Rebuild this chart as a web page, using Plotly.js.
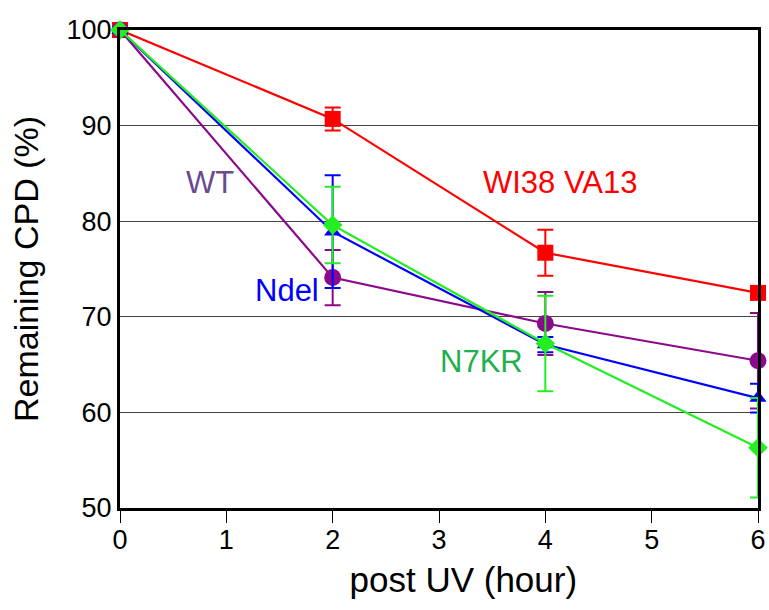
<!DOCTYPE html>
<html>
<head>
<meta charset="utf-8">
<script src="https://cdn.plot.ly/plotly-3.0.1.min.js"></script>
<style>html,body{margin:0;padding:0;background:#fff;}#chart{width:769px;height:610px;}</style>
</head>
<body>
<div id="chart"></div>
<script>
const hours = [0, 2, 4, 6];
const wi38 = [100, 90.7, 76.7, 72.5];
const wi38Err = [0, 1.2, 2.4, 0.4];
const wt = [100, 74.1, 69.3, 65.4];
const wtErr = [0, 2.9, 3.3, 5.0];
const ndel = [100, 78.9, 67.1, 61.5];
const ndelErr = [0, 5.9, 0.8, 1.5];
const n7kr = [100, 79.6, 67.2, 56.3];
const n7krErr = [0, 4.0, 5.0, 5.2];
const xTicks = [0, 1, 2, 3, 4, 5, 6];
const yTicks = [50, 60, 70, 80, 90, 100];
const labels = [
  {text: 'WT', x: 0.85, y: 84, color: '#6a4a8f'},
  {text: 'WI38 VA13', x: 4.14, y: 84, color: '#ff0000'},
  {text: 'Ndel', x: 1.57, y: 72.7, color: '#0000ff'},
  {text: 'N7KR', x: 3.4, y: 65.3, color: '#1db14f'}
];

function series(y, err, color, symbol, size) {
  return {
    x: hours, y: y, type: 'scatter', mode: 'lines+markers',
    line: {color: color, width: 2.2},
    marker: {color: color, symbol: symbol, size: size},
    error_y: {type: 'data', array: err, visible: true, color: color, thickness: 2, width: 8},
    cliponaxis: false, hoverinfo: 'skip'
  };
}

const data = [
  series(wi38, wi38Err, '#ff0000', 'square', 16),
  series(wt, wtErr, '#8b0a8b', 'circle', 17),
  series(ndel, ndelErr, '#0000ff', 'triangle-up', 15),
  series(n7kr, n7krErr, '#22ee22', 'diamond', 15)
];

const fontFam = 'Liberation Sans, Arial, sans-serif';
const layout = {
  width: 769, height: 610,
  margin: {l: 120, r: 11, t: 30, b: 102},
  paper_bgcolor: '#fff', plot_bgcolor: '#fff',
  showlegend: false,
  font: {family: fontFam, color: '#000'},
  xaxis: {
    range: [0, 6], tickvals: xTicks, ticktext: xTicks.map(String),
    showgrid: false, zeroline: false,
    showline: true, mirror: true, linecolor: '#000', linewidth: 3,
    ticks: 'outside', ticklen: 12, tickwidth: 1, tickcolor: '#000',
    ticklabelstandoff: -6,
    tickfont: {size: 27, family: fontFam, color: '#000'},
    title: {text: '&nbsp;&nbsp;&nbsp;&nbsp;&nbsp;post UV (hour)', font: {size: 35, family: fontFam, color: '#000'}, standoff: 14}
  },
  yaxis: {
    range: [50, 100], tickvals: yTicks, ticktext: yTicks.map(String),
    showgrid: true, gridcolor: '#444', gridwidth: 1, zeroline: false,
    showline: true, mirror: true, linecolor: '#000', linewidth: 3,
    ticks: '', ticklen: 0,
    tickfont: {size: 27, family: fontFam, color: '#000'},
    title: {text: 'Remaining CPD (%)', font: {size: 34, family: fontFam, color: '#000'}, standoff: 18}
  },
  annotations: labels.map(l => ({
    x: l.x, y: l.y, xref: 'x', yref: 'y', text: l.text, showarrow: false,
    font: {size: 31, family: fontFam, color: l.color}
  }))
};

Plotly.newPlot('chart', data, layout, {staticPlot: true, displayModeBar: false});
</script>
</body>
</html>
